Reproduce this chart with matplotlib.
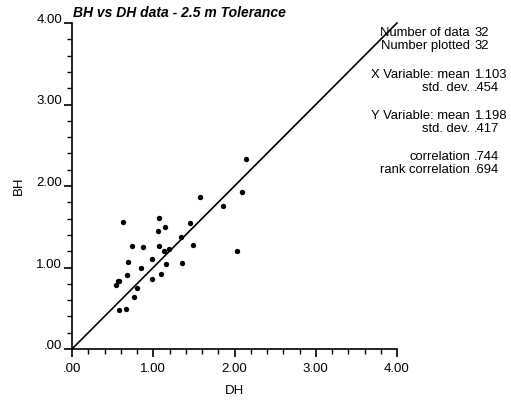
import matplotlib
matplotlib.use("Agg")
import matplotlib.pyplot as plt
from matplotlib.ticker import MultipleLocator, FuncFormatter

plt.rcParams['font.family'] = ['Liberation Sans', 'DejaVu Sans']

dh = [0.624, 1.075, 1.149, 1.063, 1.58, 1.86, 2.09, 1.457, 1.346, 1.494,
      0.739, 0.878, 1.075, 1.19, 1.129, 2.036, 0.985, 0.690, 1.158, 1.355,
      0.846, 0.677, 1.10, 0.981, 0.579, 0.562, 0.542, 0.796, 0.759, 0.579,
      0.669, 2.143]
bh = [1.56, 1.61, 1.50, 1.45, 1.87, 1.76, 1.93, 1.55, 1.37, 1.28,
      1.26, 1.25, 1.26, 1.23, 1.20, 1.20, 1.11, 1.07, 1.04, 1.05,
      1.00, 0.91, 0.92, 0.86, 0.84, 0.83, 0.79, 0.75, 0.64, 0.48,
      0.49, 2.33]

title = "BH vs DH data - 2.5 m Tolerance"
stat_labels = ["Number of data", "Number plotted", "X Variable: mean", "std. dev.",
               "Y Variable: mean", "std. dev.", "correlation", "rank correlation"]
stat_values = ["32", "32", "1.103", ".454", "1.198", ".417", ".744", ".694"]
stat_rows_y = [33, 46, 75, 88, 116, 129, 157, 170]  # pixel rows from top

W, H = 511, 403
fig = plt.figure(figsize=(W / 100, H / 100), dpi=100)
ax = fig.add_axes([72 / W, 1 - 349 / H, 325 / W, 326 / H])

ax.scatter(dh, bh, s=15, color='black', zorder=3, linewidths=0)
ax.plot([0, 4], [0, 4], color='black', lw=1.2, clip_on=False)

ax.set_xlim(0, 4)
ax.set_ylim(0, 4)
for s in ('top', 'right'):
    ax.spines[s].set_visible(False)
for s in ('left', 'bottom'):
    ax.spines[s].set_linewidth(1.2)

fmt = FuncFormatter(lambda v, p: f"{v:.2f}".lstrip('0') if v < 1 else f"{v:.2f}")
ax.xaxis.set_major_locator(MultipleLocator(1))
ax.yaxis.set_major_locator(MultipleLocator(1))
ax.xaxis.set_minor_locator(MultipleLocator(0.2))
ax.yaxis.set_minor_locator(MultipleLocator(0.2))
ax.xaxis.set_major_formatter(fmt)
ax.yaxis.set_major_formatter(fmt)
ax.tick_params(which='major', length=6, width=1.2, labelsize=9.5, direction='out')
ax.tick_params(axis='x', which='major', pad=4)
ax.tick_params(axis='y', which='major', pad=1)
ax.tick_params(which='minor', length=3.5, width=1.0, direction='out')
for lbl in ax.get_yticklabels():
    lbl.set_verticalalignment('baseline')

ax.set_xlabel("DH", fontsize=9.5, labelpad=7.5)
ax.set_ylabel("BH", fontsize=9.5, labelpad=8)

fig.text(73 / W, 1 - 13 / H, title, fontsize=10, fontweight='bold', fontstyle='italic',
         ha='left', va='center')

for lab, val, yp in zip(stat_labels, stat_values, stat_rows_y):
    fig.text(470 / W, 1 - yp / H, lab, fontsize=9.4, ha='right', va='center')
    fig.text(474 / W, 1 - yp / H, val, fontsize=9.4, ha='left', va='center')

fig.savefig("out.png", dpi=100)
